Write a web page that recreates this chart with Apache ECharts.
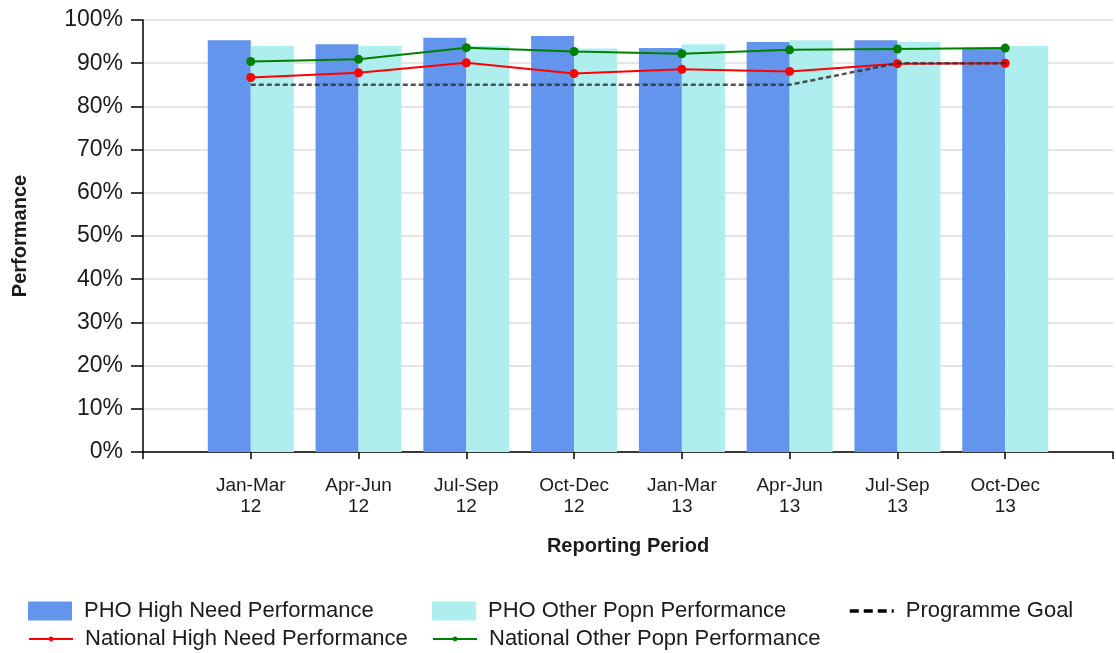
<!DOCTYPE html>
<html>
<head>
<meta charset="utf-8">
<title>PHO Performance by Reporting Period</title>
<script src="https://cdn.jsdelivr.net/npm/echarts@6/dist/echarts.min.js"></script>
<style>
  html, body { margin: 0; padding: 0; background: #ffffff; }
  #chart { width: 1116px; height: 653px; }
</style>
</head>
<body>
<div id="chart"></div>
<script>
// Reporting periods (quarters)
const periods = ['Jan-Mar\n12', 'Apr-Jun\n12', 'Jul-Sep\n12', 'Oct-Dec\n12',
                 'Jan-Mar\n13', 'Apr-Jun\n13', 'Jul-Sep\n13', 'Oct-Dec\n13'];

// Performance values, in percent
const phoHighNeed   = [95.3, 94.4, 95.9, 96.3, 93.5, 94.9, 95.3, 93.6];
const phoOtherPopn  = [94.0, 94.0, 94.0, 93.4, 94.4, 95.3, 94.9, 94.0];
const natHighNeed   = [86.7, 87.8, 90.1, 87.6, 88.6, 88.1, 89.9, 90.0];
const natOtherPopn  = [90.4, 90.9, 93.6, 92.7, 92.2, 93.1, 93.3, 93.5];
const programmeGoal = [85, 85, 85, 85, 85, 85, 90, 90];

// y-axis tick labels
const yTicks = [0, 10, 20, 30, 40, 50, 60, 70, 80, 90, 100];

// The category axis carries an empty slot at each end so the quarters sit
// on tick marks, with half a band of space either side of the bar pairs.
const axisCats = [''].concat(periods, ['']);
const pad = arr => [null].concat(arr, [null]);

const FONT = '"Liberation Sans", Arial, sans-serif';
const TEXT = '#1b1b1b';

const chart = echarts.init(document.getElementById('chart'), null, { renderer: 'canvas' });

// One legend entry per block so each sits at its own spot in the key grid.
function legendEntry(name, left, top, itemHeight, extra) {
  return Object.assign({
    orient: 'horizontal',
    left: left,
    top: top,
    padding: 0,
    itemWidth: 44,
    itemHeight: itemHeight,
    data: [name],
    textStyle: { fontFamily: FONT, fontSize: 22, color: TEXT, padding: [0, 0, 0, 7] }
  }, extra || {});
}

chart.setOption({
  animation: false,
  backgroundColor: '#ffffff',
  grid: { left: 143, right: 1, top: 20, height: 432, containLabel: false },
  legend: [
    legendEntry('PHO High Need Performance', 28, 600, 19, { icon: 'rect' }),
    legendEntry('PHO Other Popn Performance', 432, 600, 19, { icon: 'rect' }),
    legendEntry('Programme Goal', 848, 600, 19, {
      itemStyle: { opacity: 0 },
      lineStyle: { color: '#000000', width: 3.5, type: [9, 5], opacity: 1 }
    }),
    legendEntry('National High Need Performance', 28, 628, 6),
    legendEntry('National Other Popn Performance', 432, 628, 6)
  ],
  xAxis: {
    type: 'category',
    data: axisCats,
    boundaryGap: false,
    name: 'Reporting Period',
    nameLocation: 'middle',
    nameGap: 84,
    nameTextStyle: { fontFamily: FONT, fontSize: 20, fontWeight: 'bold', color: TEXT },
    axisLine: { lineStyle: { color: '#000000', width: 1.5 } },
    axisTick: { show: true, length: 7, lineStyle: { color: '#000000', width: 1.5 } },
    axisLabel: {
      fontFamily: FONT, fontSize: 19, color: TEXT, lineHeight: 21, margin: 23,
      interval: 0
    },
    splitLine: { show: false }
  },
  yAxis: {
    type: 'value',
    min: yTicks[0],
    max: yTicks[yTicks.length - 1],
    interval: 10,
    name: 'Performance',
    nameLocation: 'middle',
    nameRotate: 90,
    nameGap: 113,
    nameTextStyle: { fontFamily: FONT, fontSize: 20, fontWeight: 'bold', color: TEXT },
    axisLine: { show: true, lineStyle: { color: '#000000', width: 1.5 } },
    axisTick: { show: true, length: 12, lineStyle: { color: '#000000', width: 1.5 } },
    axisLabel: { fontFamily: FONT, fontSize: 23, color: TEXT, margin: 20, formatter: '{value}%' },
    splitLine: { show: true, lineStyle: { color: '#dcdcdc', width: 1.5 } }
  },
  series: [
    {
      name: 'PHO High Need Performance',
      type: 'bar',
      data: pad(phoHighNeed),
      barWidth: 43,
      barGap: '0%',
      itemStyle: { color: '#6495ED' },
      z: 2
    },
    {
      name: 'PHO Other Popn Performance',
      type: 'bar',
      data: pad(phoOtherPopn),
      barWidth: 43,
      barGap: '0%',
      itemStyle: { color: '#AFEEEE' },
      z: 2
    },
    {
      name: 'National High Need Performance',
      type: 'line',
      data: pad(natHighNeed),
      symbol: 'circle',
      symbolSize: 9,
      lineStyle: { color: '#ff0000', width: 2 },
      itemStyle: { color: '#ff0000' },
      z: 4
    },
    {
      name: 'National Other Popn Performance',
      type: 'line',
      data: pad(natOtherPopn),
      symbol: 'circle',
      symbolSize: 9,
      lineStyle: { color: '#008000', width: 2 },
      itemStyle: { color: '#008000' },
      z: 4
    },
    {
      name: 'Programme Goal',
      type: 'line',
      data: pad(programmeGoal),
      symbol: 'none',
      lineStyle: { color: '#333333', width: 2.5, type: [5, 3], opacity: 0.85 },
      itemStyle: { color: '#111111' },
      z: 5
    }
  ]
});
</script>
</body>
</html>
